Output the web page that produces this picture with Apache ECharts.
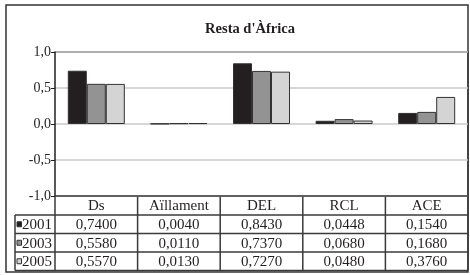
<!DOCTYPE html>
<html>
<head>
	<meta charset="utf-8">
	<title>Resta d'Àfrica</title>
	<script src="https://cdn.jsdelivr.net/npm/echarts@6/dist/echarts.min.js"></script>
	<style>
		html, body { margin: 0; padding: 0; background: #fff; }
		#chart { width: 470px; height: 275px; }
	</style>
</head>
<body>
	<div id="chart"></div>
	<script>
	var categories = ['Ds', 'Aïllament', 'DEL', 'RCL', 'ACE'];
	var years = ['2001', '2003', '2005'];
	var s2001 = [0.7400, 0.0040, 0.8430, 0.0448, 0.1540];
	var s2003 = [0.5580, 0.0110, 0.7370, 0.0680, 0.1680];
	var s2005 = [0.5570, 0.0130, 0.7270, 0.0480, 0.3760];
	var colors = ['#231f20', '#939393', '#d4d4d4'];

	var font = '"Liberation Serif", "DejaVu Serif", serif';
	var gl = 55, gt = 52, gw = 413, gh = 144;   // plot area
	var rowH = 18.5, headH = 19, legX = 15;
	var lineCol = '#3a3a3a';

	var allSeries = [s2001, s2003, s2005];
	var colW = gw / categories.length;
	var tableTop = gt + gh;
	var rowTop = tableTop + headH;
	var tableBottom = rowTop + rowH * years.length;

	function fmt(v, d) { return v.toFixed(d).replace('.', ','); }

	var graphic = [];
	// outer frame
	graphic.push({ type: 'rect', shape: { x: 6, y: 5, width: gl + gw - 6, height: 267 },
		style: { fill: 'none', stroke: '#333', lineWidth: 1.5 }, silent: true });
	// plot top and right border
	graphic.push({ type: 'polyline', shape: { points: [[gl, gt], [gl + gw, gt], [gl + gw, tableBottom]] },
		style: { stroke: lineCol, lineWidth: 1.5, fill: 'none' } });
	// horizontal table lines
	for (var r = 0; r <= years.length; r++) {
		var y = rowTop + r * rowH;
		graphic.push({ type: 'line', shape: { x1: legX, y1: y, x2: gl + gw, y2: y },
			style: { stroke: lineCol, lineWidth: 1.5 } });
	}
	// vertical table lines
	graphic.push({ type: 'line', shape: { x1: legX, y1: rowTop, x2: legX, y2: tableBottom },
		style: { stroke: lineCol, lineWidth: 1.5 } });
	for (var c = 0; c < categories.length; c++) {
		var x = gl + c * colW;
		graphic.push({ type: 'line', shape: { x1: x, y1: tableTop, x2: x, y2: tableBottom },
			style: { stroke: lineCol, lineWidth: 1.5 } });
	}
	// legend cells and values
	years.forEach(function (yr, i) {
		var cy = rowTop + i * rowH + rowH / 2;
		graphic.push({ type: 'rect', shape: { x: 17, y: cy - 2.5, width: 4.5, height: 5 },
			style: { fill: colors[i], stroke: '#333', lineWidth: 1 } });
		graphic.push({ type: 'text', x: 22, y: cy + 1,
			style: { text: yr, font: '15px ' + font, fill: '#231f20', textVerticalAlign: 'middle' } });
		allSeries[i].forEach(function (v, j) {
			graphic.push({ type: 'text', x: gl + (j + 0.5) * colW, y: cy + 1,
				style: { text: fmt(v, 4), font: '15px ' + font, fill: '#231f20',
					textAlign: 'center', textVerticalAlign: 'middle' } });
		});
	});

	var chart = echarts.init(document.getElementById('chart'));
	chart.setOption({
		animation: false,
		backgroundColor: '#fff',
		title: {
			text: "Resta d'Àfrica", left: 245, top: 17, textAlign: 'center',
			textStyle: { fontFamily: font, fontSize: 14.5, fontWeight: 'bold', color: '#231f20' }
		},
		grid: { left: gl, top: gt, width: gw, height: gh, containLabel: false },
		xAxis: {
			type: 'category', data: categories,
			axisLine: { onZero: false, lineStyle: { color: lineCol, width: 1.5 } },
			axisTick: { show: false },
			axisLabel: { margin: 3, fontFamily: font, fontSize: 15, color: '#231f20' }
		},
		yAxis: {
			type: 'value', min: -1, max: 1, interval: 0.5,
			axisLine: { show: true, lineStyle: { color: '#231f20', width: 1.5 } },
			axisTick: { show: true, length: 4, lineStyle: { color: '#231f20' } },
			axisLabel: { margin: 4, fontFamily: font, fontSize: 14, color: '#231f20',
				formatter: function (v) { return fmt(v, 1); } },
			splitLine: { lineStyle: { color: '#c8c8c8', width: 1.5 } }
		},
		series: years.map(function (yr, i) {
			return {
				name: yr, type: 'bar', data: allSeries[i], barWidth: 19, barGap: '0%',
				itemStyle: { color: colors[i], borderColor: '#333', borderWidth: 1 }
			};
		}),
		graphic: graphic
	});
	</script>
</body>
</html>
